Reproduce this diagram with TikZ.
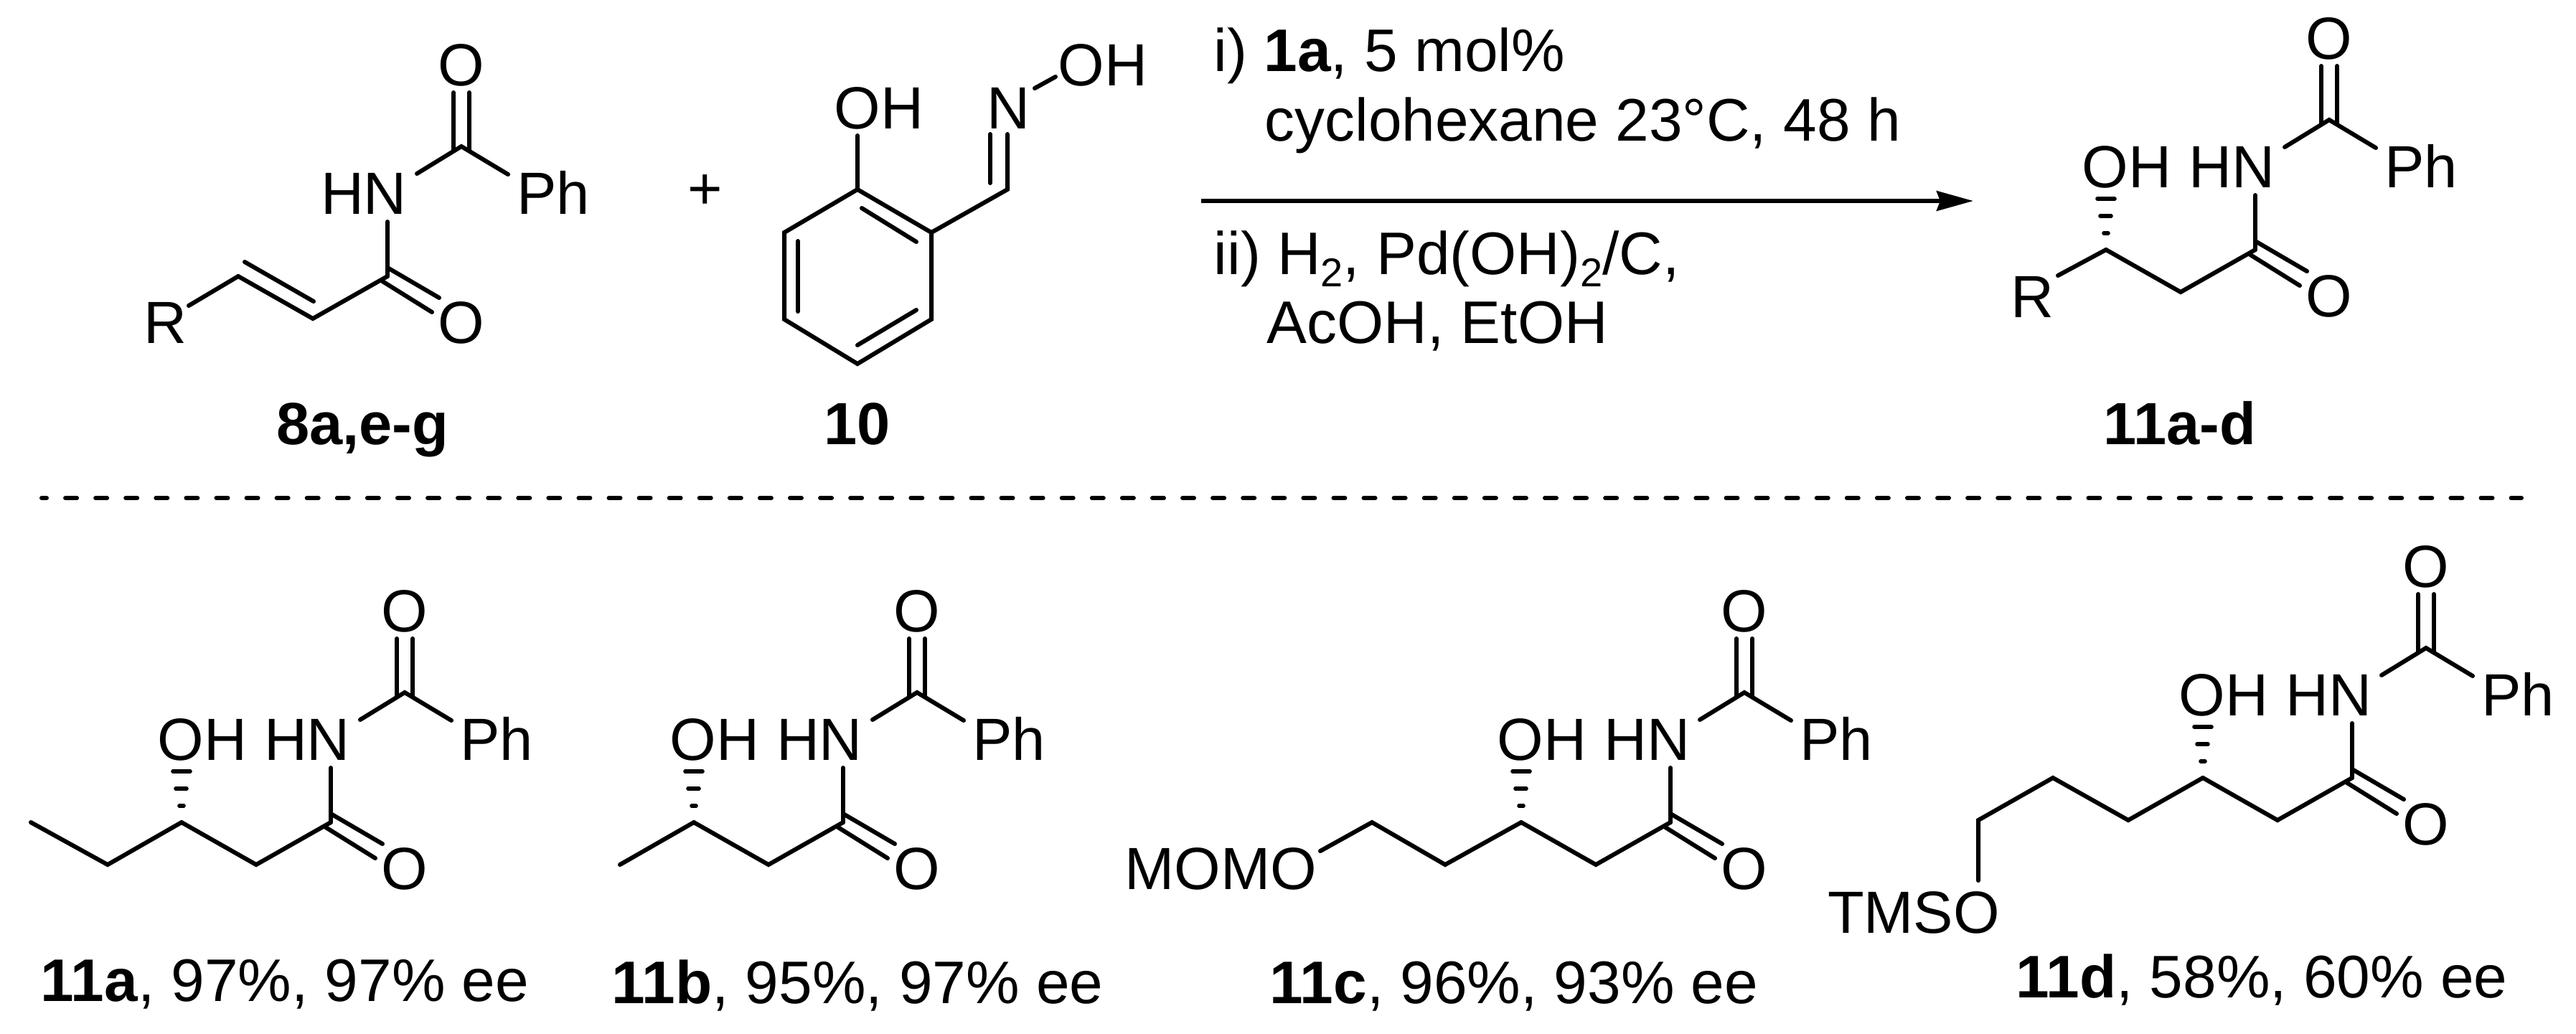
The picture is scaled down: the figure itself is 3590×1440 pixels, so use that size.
\documentclass[tikz,border=0pt]{standalone}
\usepackage{fontspec}
\setmainfont{Liberation Sans}
\usetikzlibrary{arrows.meta}
\newcommand{\chemsub}[1]{\raisebox{-4.4pt}{\fontsize{14}{14}\selectfont #1}}
\tikzset{
  bond/.style={line width=1.5pt,line cap=round,line join=miter},
  atom/.style={inner sep=0pt,anchor=base,font=\fontsize{20.75}{24}\selectfont},
  yieldlabel/.style={inner sep=0pt,anchor=base,font=\fontsize{20.95}{24}\selectfont},
  cond/.style={inner sep=0pt,anchor=base west,font=\fontsize{20.95}{24}\selectfont},
  hashbar/.style={line width=1.4pt,line cap=round},
  rxnarrow/.style={line width=1.5pt,-{Stealth[length=12.75pt,width=6.9pt,inset=1.25pt]}},
  sep/.style={line width=1.5pt,line cap=round,dash pattern=on 4pt off 6.52pt,dash phase=2.25pt},
}
% shared N-benzoyl amide fragment, with its two chain carbons
\newcommand{\benzamide}{%
  \node[atom] (otop) at (564,880) {O};
  \node[atom] (hn) at (428,1059) {HN};
  \node[atom] (ph) at (692,1059) {Ph};
  \node[atom] (olow) at (564,1239) {O};
  \coordinate (a) at (253,1146);
  \coordinate (b) at (357,1205);
  \coordinate (c) at (461,1146);
  \coordinate (cb) at (564,965);
  \coordinate (nend) at (502,1003);
  \coordinate (phend) at (629,1004);
  \coordinate (ntop) at (461,1070);
  \coordinate (ca) at (553,890);
  \coordinate (cc) at (575,890);
  \coordinate (ca1) at (553,971);
  \coordinate (cc1) at (575,971);
  \coordinate (u1) at (461,1134);
  \coordinate (u2) at (533,1176);
  \coordinate (l1) at (454,1153);
  \coordinate (l2) at (523,1196);
  \draw[bond] (ca) -- (ca1);
  \draw[bond] (cc) -- (cc1);
  \draw[bond] (nend) -- (cb) -- (phend);
  \draw[bond] (ntop) -- (c);
  \draw[bond] (u1) -- (u2);
  \draw[bond] (l1) -- (l2);
  \draw[bond] (a) -- (b) -- (c);
}
% hashed C-OH bond with its label
\newcommand{\hydroxy}{%
  \node[atom] (oh) at (282,1059) {OH};
  \coordinate (h1a) at (241,1075);
  \coordinate (h1b) at (265,1075);
  \coordinate (h2a) at (245,1099);
  \coordinate (h2b) at (260,1099);
  \coordinate (h3a) at (250,1123);
  \coordinate (h3b) at (256,1123);
  \draw[hashbar] (h1a) -- (h1b);
  \draw[hashbar] (h2a) -- (h2b);
  \draw[hashbar] (h3a) -- (h3b);
}
\begin{document}
\begin{tikzpicture}[x=0.25pt,y=-0.25pt]
\useasboundingbox (0,0) rectangle (3590,1440);

% 8a,e-g
\begin{scope}[shift={(79,-761)},name prefix=s8-]
  \benzamide
  \node[atom] (r) at (151,1239) {R};
  \coordinate (rend) at (184,1187);
  \coordinate (v1) at (262,1126);
  \coordinate (v2) at (358,1181);
  \draw[bond] (rend) -- (a);
  \draw[bond] (v1) -- (v2);
\end{scope}
\node[atom] (l8) at (505,619) {\textbf{8a,e-g}};
\node[atom] (plus) at (983,291) {+};

% 10
\coordinate (r1) at (1195,264);
\coordinate (r2) at (1298,324);
\coordinate (r3) at (1298,445);
\coordinate (r4) at (1195,507);
\coordinate (r5) at (1093,445);
\coordinate (r6) at (1093,324);
\draw[bond] (r1) -- (r2) -- (r3) -- (r4) -- (r5) -- (r6) -- cycle;
\coordinate (i1) at (1201,290);
\coordinate (i2) at (1277,337);
\coordinate (i3) at (1112,336);
\coordinate (i4) at (1112,434);
\coordinate (i5) at (1195,481);
\coordinate (i6) at (1277,432);
\draw[bond] (i1) -- (i2);
\draw[bond] (i3) -- (i4);
\draw[bond] (i5) -- (i6);
\node[atom] (oh10) at (1225,179) {OH};
\coordinate (ohend) at (1195,189);
\draw[bond] (ohend) -- (r1);
\coordinate (imc) at (1404,264);
\coordinate (ne1) at (1404,187);
\coordinate (ne2) at (1380,187);
\coordinate (imi) at (1380,255);
\draw[bond] (r2) -- (imc) -- (ne1);
\draw[bond] (ne2) -- (imi);
\node[atom] (n10) at (1405,179) {N};
\node[atom] (noh) at (1537,119) {OH};
\coordinate (no1) at (1442,123);
\coordinate (no2) at (1471,107);
\draw[bond] (no1) -- (no2);
\node[atom] (l10) at (1195,619) {\textbf{10}};

% arrow and conditions
\coordinate (ar1) at (1674,280);
\coordinate (ar2) at (2750,280);
\draw[rxnarrow] (ar1) -- (ar2);
\node[cond] (t1) at (1691,99) {i) \textbf{1a}, 5 mol\%};
\node[cond] (t2) at (1762,196) {cyclohexane 23°C, 48 h};
\node[cond] (t3) at (1691,382) {ii) H\chemsub{2}, Pd(OH)\chemsub{2}/C,};
\node[cond] (t4) at (1765,478) {AcOH, EtOH};

% 11a-d
\begin{scope}[shift={(2682,-798)},name prefix=sp-]
  \benzamide
  \hydroxy
  \node[atom] (r) at (150,1240) {R};
  \coordinate (rend) at (186,1182);
  \draw[bond] (rend) -- (a);
\end{scope}
\node[atom] (lp) at (3038,619) {\textbf{11a-d}};

% separator
\coordinate (d1) at (58,694);
\coordinate (d2) at (3514,694);
\draw[sep] (d1) -- (d2);

% 11a
\begin{scope}[name prefix=sa-]
  \benzamide
  \hydroxy
  \coordinate (e) at (150,1205);
  \coordinate (f) at (43,1146);
  \draw[bond] (f) -- (e) -- (a);
\end{scope}
\node[yieldlabel] (la) at (397,1395) {\textbf{11a}, 97\%, 97\% ee};

% 11b
\begin{scope}[shift={(714,0)},name prefix=sb-]
  \benzamide
  \hydroxy
  \coordinate (e) at (150,1205);
  \draw[bond] (e) -- (a);
\end{scope}
\node[yieldlabel] (lb) at (1195,1398) {\textbf{11b}, 95\%, 97\% ee};

% 11c
\begin{scope}[shift={(1867,0)},name prefix=sc-]
  \benzamide
  \hydroxy
  \coordinate (e) at (147,1205);
  \coordinate (f) at (45,1146);
  \coordinate (g) at (-27,1186);
  \draw[bond] (g) -- (f) -- (e) -- (a);
  \node[atom] (mom) at (-166,1239) {MOMO};
\end{scope}
\node[yieldlabel] (lc) at (2110,1398) {\textbf{11c}, 96\%, 93\% ee};

% 11d
\begin{scope}[shift={(2817,-62)},name prefix=sd-]
  \benzamide
  \hydroxy
  \coordinate (e) at (149,1205);
  \coordinate (f) at (44,1146);
  \coordinate (g) at (-60,1205);
  \coordinate (h) at (-60,1289);
  \draw[bond] (h) -- (g) -- (f) -- (e) -- (a);
  \node[atom] (tms) at (-150,1362) {TMSO};
\end{scope}
\node[yieldlabel] (ld) at (3152,1390) {\textbf{11d}, 58\%, 60\% ee};
\end{tikzpicture}
\end{document}
